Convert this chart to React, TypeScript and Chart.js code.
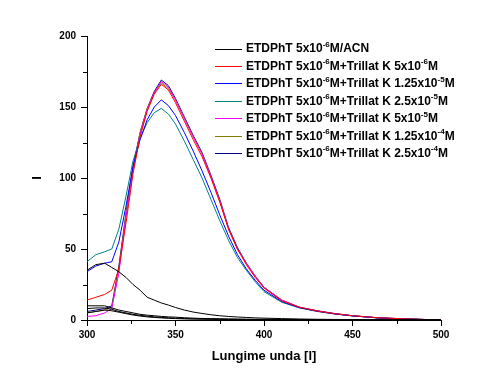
import React, { useEffect, useRef } from "react";
import { Chart, registerables } from "chart.js";

Chart.register(...registerables);

const wavelengths = [300, 305, 310, 314, 318, 322, 326, 330, 334, 338, 342, 346, 350, 355, 360, 365, 370, 375, 380, 385, 390, 395, 400, 410, 420, 430, 440, 450, 465, 480, 500];

const acn = [35, 39, 40, 37, 34, 30, 25, 21, 16, 14, 12, 10.5, 8.8, 7, 5.6, 4.6, 3.7, 3, 2.5, 2.1, 1.8, 1.5, 1.3, 1, 0.7, 0.5, 0.4, 0.3, 0.2, 0.1, 0];
const low1 = [10, 10, 10, 8.5, 7, 6, 5, 4, 3.4, 3, 2.5, 2.2, 2, 1.6, 1.3, 1.1, 1, 0.9, 0.8, 0.7, 0.6, 0.5, 0.5, 0.4, 0.3, 0.2, 0.1, 0, 0, 0, 0];
const low2 = [8, 8.5, 8.5, 7.5, 6, 5, 4, 3.3, 2.7, 2.2, 1.8, 1.5, 1.3, 1, 0.8, 0.7, 0.6, 0.5, 0.4, 0.4, 0.3, 0.3, 0.2, 0.2, 0.1, 0.1, 0, 0, 0, 0, 0];
const low3 = [5, 6, 7, 6.5, 5.5, 4.5, 3.5, 2.8, 2.2, 1.8, 1.5, 1.2, 1, 0.8, 0.7, 0.6, 0.5, 0.4, 0.3, 0.3, 0.2, 0.2, 0.2, 0.1, 0.1, 0, 0, 0, 0, 0, 0];
const tk5e6 = [14, 16, 18, 21, 36, 68, 103, 129, 147, 159, 166, 162, 153, 140, 127, 115, 100, 83, 64, 50, 39, 30, 22.5, 13.5, 9, 6.3, 4.4, 3, 1.5, 0.8, 0];
const tk125e5 = [34, 38, 40, 41, 55, 80, 108, 127, 141, 150, 155, 151, 144, 132, 119, 105, 90, 74, 59, 46, 36, 28, 21, 13, 8.7, 6.2, 4.3, 2.9, 1.4, 0.7, 0];
const tk25e5 = [41, 46, 48, 50, 64, 87, 112, 128, 139, 146, 149, 145, 138, 126, 113, 100, 85, 70, 56, 44, 35, 27, 20, 12.5, 8.5, 6, 4.2, 2.9, 1.4, 0.7, 0];
const tk5e5 = [2.5, 3, 5, 8, 33, 72, 106, 131, 148, 160, 168, 164, 155, 142, 129, 117, 101, 84, 64, 50, 40, 31, 23, 14, 9, 6.5, 4.5, 3, 1.5, 0.8, 0];
const tk125e4 = [5, 6, 7, 9, 36, 74, 107, 132, 149, 160, 167, 163, 155, 142, 129, 117, 101, 84, 64, 50, 40, 31, 23, 14, 9, 6.5, 4.5, 3, 1.5, 0.8, 0];
const tk25e4 = [6, 7, 8, 10, 38, 75, 108, 132, 149, 161, 169, 165, 156, 143, 130, 118, 102, 85, 65, 51, 40, 31, 23, 14, 9, 6.5, 4.5, 3, 1.5, 0.8, 0];

const legendLabels = [
  "ETDPhT 5x10⁻⁶M/ACN",
  "ETDPhT 5x10⁻⁶M+Trillat K 5x10⁻⁶M",
  "ETDPhT 5x10⁻⁶M+Trillat K 1.25x10⁻⁵M",
  "ETDPhT 5x10⁻⁶M+Trillat K 2.5x10⁻⁵M",
  "ETDPhT 5x10⁻⁶M+Trillat K 5x10⁻⁵M",
  "ETDPhT 5x10⁻⁶M+Trillat K 1.25x10⁻⁴M",
  "ETDPhT 5x10⁻⁶M+Trillat K 2.5x10⁻⁴M",
];
const xTitle = "Lungime unda [l]";
const yTitle = "I";

const FONT = "'Liberation Sans', Arial, sans-serif";
const SUP_MAP: Record<string, string> = { "⁻": "-", "⁰": "0", "¹": "1", "²": "2", "³": "3", "⁴": "4", "⁵": "5", "⁶": "6", "⁷": "7", "⁸": "8", "⁹": "9" };

const extrasPlugin = {
  id: "extras",
  afterDraw(chart: any) {
    const ctx = chart.ctx as CanvasRenderingContext2D;
    const xs = chart.scales.x;
    const ys = chart.scales.y;
    const area = chart.chartArea;
    ctx.save();
    ctx.strokeStyle = "#000";
    ctx.lineWidth = 1;
    // minor ticks
    for (let v = 325; v < 500; v += 50) {
      const px = Math.round(xs.getPixelForValue(v)) + 0.5;
      ctx.beginPath();
      ctx.moveTo(px, area.bottom);
      ctx.lineTo(px, area.bottom + 4);
      ctx.stroke();
    }
    for (let v = 25; v < 200; v += 50) {
      const py = Math.round(ys.getPixelForValue(v)) + 0.5;
      ctx.beginPath();
      ctx.moveTo(area.left - 4, py);
      ctx.lineTo(area.left, py);
      ctx.stroke();
    }
    // legend
    const ds = chart.data.datasets.filter((d: any) => d.label);
    const x0 = 215;
    const y0 = 48.5;
    const dy = 17.45;
    ds.forEach((d: any, i: number) => {
      const y = y0 + i * dy;
      ctx.strokeStyle = d.borderColor;
      ctx.beginPath();
      ctx.moveTo(x0, Math.round(y) + 0.5);
      ctx.lineTo(x0 + 27, Math.round(y) + 0.5);
      ctx.stroke();
      let tx = x0 + 31;
      ctx.fillStyle = "#000";
      ctx.textBaseline = "middle";
      ctx.textAlign = "left";
      const text: string = d.label;
      let buf = "";
      let isSup = false;
      const flush = () => {
        if (!buf) return;
        if (isSup) {
          ctx.font = `bold 8px ${FONT}`;
          ctx.fillText(buf, tx, y - 4);
        } else {
          ctx.font = `bold 12px ${FONT}`;
          ctx.fillText(buf, tx, y + 0.5);
        }
        tx += ctx.measureText(buf).width;
        buf = "";
      };
      for (const ch of text) {
        const sup = ch in SUP_MAP;
        if (sup !== isSup) {
          flush();
          isSup = sup;
        }
        buf += sup ? SUP_MAP[ch] : ch;
      }
      flush();
    });
    ctx.restore();
  },
};

const mk = (data: number[], color: string, label?: string) => ({
  label,
  data: wavelengths.map((w, i) => ({ x: w, y: data[i] })),
  borderColor: color,
  backgroundColor: color,
  borderWidth: 1,
  pointRadius: 0,
  tension: 0,
  fill: false,
});

export default function App() {
  const ref = useRef<HTMLCanvasElement>(null);
  useEffect(() => {
    document.body.style.margin = "0";
    const tickFont = { family: FONT, weight: "bold" as const, size: 10 };
    const chart = new Chart(ref.current!, {
      type: "line",
      data: {
        datasets: [
          mk(low1, "#000000"),
          mk(low2, "#000000"),
          mk(low3, "#000000"),
          mk(acn, "#000000", legendLabels[0]),
          mk(tk5e6, "#ff0000", legendLabels[1]),
          mk(tk125e5, "#0000ff", legendLabels[2]),
          mk(tk25e5, "#008080", legendLabels[3]),
          mk(tk5e5, "#ff00ff", legendLabels[4]),
          mk(tk125e4, "#808000", legendLabels[5]),
          mk(tk25e4, "#000080", legendLabels[6]),
        ] as any,
      },
      options: {
        animation: false,
        responsive: false,
        events: [],
        layout: { padding: { left: 0, right: 41, top: 36, bottom: 0 } },
        plugins: { legend: { display: false }, tooltip: { enabled: false } },
        scales: {
          x: {
            type: "linear",
            min: 300,
            max: 500,
            ticks: { stepSize: 50, color: "#000", font: tickFont, padding: 3, maxRotation: 0 },
            grid: { drawOnChartArea: false, tickLength: 6, color: "#000" },
            border: { color: "#000" },
            title: {
              display: true,
              text: xTitle,
              color: "#000",
              font: { family: FONT, weight: "bold", size: 13 },
              padding: { top: 0, bottom: 26 },
            },
            afterFit: (s: any) => {
              s.height = 70;
            },
          },
          y: {
            type: "linear",
            min: 0,
            max: 200,
            ticks: { stepSize: 50, color: "#000", font: tickFont, padding: 5 },
            grid: { drawOnChartArea: false, tickLength: 6, color: "#000" },
            border: { color: "#000" },
            title: {
              display: true,
              text: yTitle,
              color: "#000",
              font: { family: FONT, weight: "bold", size: 13 },
              padding: { top: 30, bottom: 0 },
            },
            afterFit: (s: any) => {
              s.width = 87;
            },
          },
        },
      },
      plugins: [extrasPlugin],
    });
    return () => chart.destroy();
  }, []);
  return (
    <div style={{ width: 482, height: 390, background: "#fff" }}>
      <canvas ref={ref} width={482} height={390} />
    </div>
  );
}
